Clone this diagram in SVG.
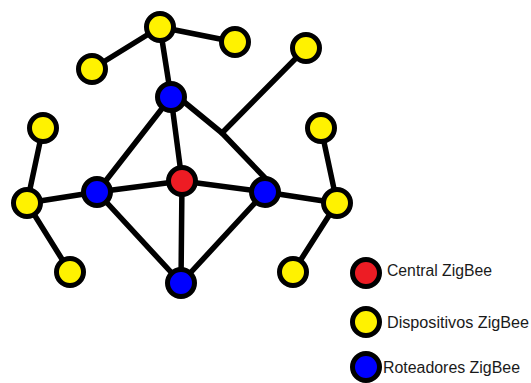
<svg xmlns="http://www.w3.org/2000/svg" width="531" height="383" viewBox="0 0 531 383">
<style>
.bg{fill:#ffffff}
.e{stroke:#000;stroke-width:5.5;fill:none;stroke-linecap:round;stroke-linejoin:round}
.n{stroke:#000;stroke-width:5}
.y{fill:#fff200}
.b{fill:#0000ff}
.r{fill:#ed1c24}
.t{font-family:"Liberation Sans",Arial,sans-serif;font-size:16px;fill:#1a1a1a}
</style>
<rect class="bg" x="0" y="0" width="531" height="383"/>
<g id="connectors">
<line class="e" x1="160" y1="27" x2="92" y2="69"/>
<line class="e" x1="160" y1="27" x2="235" y2="42"/>
<line class="e" x1="160" y1="27" x2="171" y2="97"/>
<line class="e" x1="171" y1="97" x2="97" y2="192"/>
<line class="e" x1="171" y1="97" x2="182" y2="181"/>
<polyline class="e" points="172,92 222,133 267,180"/>
<line class="e" x1="306" y1="48" x2="222" y2="133"/>
<line class="e" x1="97" y1="192" x2="182" y2="181"/>
<line class="e" x1="182" y1="181" x2="265" y2="192"/>
<line class="e" x1="97" y1="192" x2="181" y2="283"/>
<line class="e" x1="182" y1="181" x2="181" y2="283"/>
<line class="e" x1="265" y1="192" x2="181" y2="283"/>
<line class="e" x1="97" y1="192" x2="27" y2="203"/>
<line class="e" x1="27" y1="203" x2="43" y2="128"/>
<line class="e" x1="27" y1="203" x2="70" y2="272"/>
<line class="e" x1="265" y1="192" x2="337" y2="203"/>
<line class="e" x1="337" y1="203" x2="321" y2="128"/>
<line class="e" x1="337" y1="203" x2="293" y2="272"/>
</g>
<g id="yT"><circle class="n y" cx="160" cy="27" r="13.5"/></g>
<g id="yTL"><circle class="n y" cx="92" cy="69" r="13.5"/></g>
<g id="yTR"><circle class="n y" cx="235" cy="42" r="13.5"/></g>
<g id="yFTR"><circle class="n y" cx="306" cy="48" r="13.5"/></g>
<g id="yLU"><circle class="n y" cx="43" cy="128" r="13.5"/></g>
<g id="yFL"><circle class="n y" cx="27" cy="203" r="13.5"/></g>
<g id="yBL"><circle class="n y" cx="70" cy="272" r="13.5"/></g>
<g id="yRU"><circle class="n y" cx="321" cy="128" r="13.5"/></g>
<g id="yR"><circle class="n y" cx="337" cy="203" r="13.5"/></g>
<g id="yBR"><circle class="n y" cx="293" cy="272" r="13.5"/></g>
<g id="bT"><circle class="n b" cx="171" cy="97" r="13.5"/></g>
<g id="bL"><circle class="n b" cx="97" cy="192" r="13.5"/></g>
<g id="bR"><circle class="n b" cx="265" cy="192" r="13.5"/></g>
<g id="bB"><circle class="n b" cx="181" cy="283" r="13.5"/></g>
<g id="central"><circle class="n r" cx="182" cy="181" r="13.5"/></g>
<g id="legend-central">
<circle class="n r" cx="366" cy="273" r="13.5"/>
<text class="t" x="387" y="276" textLength="105" lengthAdjust="spacingAndGlyphs">Central ZigBee</text>
</g>
<g id="legend-dispositivos">
<circle class="n y" cx="366" cy="322" r="13.5"/>
<text class="t" x="387" y="328" textLength="142" lengthAdjust="spacingAndGlyphs">Dispositivos ZigBee</text>
</g>
<g id="legend-roteadores">
<circle class="n b" cx="366" cy="367" r="13.5"/>
<text class="t" x="383" y="373" textLength="137" lengthAdjust="spacingAndGlyphs">Roteadores ZigBee</text>
</g>
</svg>
